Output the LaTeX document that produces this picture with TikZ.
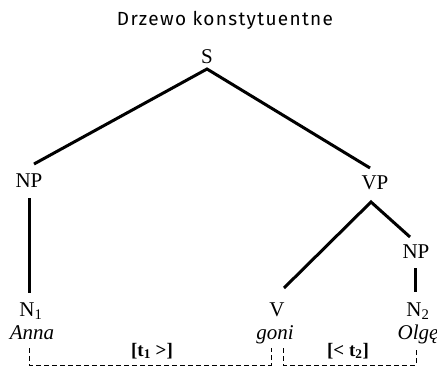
\documentclass[tikz,border=0pt]{standalone}
\usepackage{fontspec}
\setmainfont{Liberation Serif}
\newfontfamily\titlefont[LetterSpace=7]{Fira Sans}
\tikzset{
  lbl/.style={inner sep=0pt, anchor=base, font=\fontsize{21}{23}\selectfont},
  ilbl/.style={inner sep=0pt, anchor=base, font=\fontsize{21}{23}\selectfont\itshape},
  edge/.style={line width=3pt},
  brk/.style={line width=1pt, dash pattern=on 5pt off 3pt},
  tlab/.style={inner sep=0pt, anchor=base, font=\fontsize{19}{21}\selectfont\bfseries}
}
\begin{document}
\begin{tikzpicture}[x=1pt,y=-1pt]
\useasboundingbox (0,0) rectangle (437,367);
\node[inner sep=0pt, anchor=base, font=\titlefont\fontsize{19}{21}\selectfont] (title) at (225,25) {Drzewo konstytuentne};
\node[lbl] (S) at (207,63) {S};
\node[lbl] (NP1) at (29,187) {NP};
\node[lbl] (VP) at (375,189) {VP};
\node[lbl] (NP2) at (416,258) {NP};
\node[lbl] (N1) at (31,316) {N\textsubscript{1}};
\node[lbl] (V) at (277,316) {V};
\node[lbl] (N2) at (418,316) {N\textsubscript{2}};
\node[ilbl] (anna) at (32,339) {Anna};
\node[ilbl] (goni) at (275,339) {goni};
\node[ilbl] (olge) at (418,339) {Olgę};
\coordinate (sA) at (207,69);
\coordinate (sL) at (34,164);
\coordinate (sR) at (370,168);
\coordinate (vA) at (371,202);
\coordinate (vL) at (284,288);
\coordinate (vR) at (410,237);
\coordinate (np1t) at (29,198);
\coordinate (np1b) at (29,293);
\coordinate (np2t) at (415,268);
\coordinate (np2b) at (415,292);
\draw[edge] (sL) -- (sA) -- (sR);
\draw[edge] (vL) -- (vA) -- (vR);
\draw[edge] (np1t) -- (np1b);
\draw[edge] (np2t) -- (np2b);
\coordinate (b1a) at (29,348);
\coordinate (b1b) at (271,348);
\coordinate (b2a) at (283,348);
\coordinate (b2b) at (416,348);
\draw[brk] (b1a) -- (29,365) -- (271,365) -- (b1b);
\draw[brk] (b2a) -- (283,365) -- (416,365) -- (b2b);
\node[tlab] (t1) at (152,356) {[t\textsubscript{1} >]};
\node[tlab] (t2) at (348,356) {[< t\textsubscript{2}]};
\end{tikzpicture}
\end{document}
